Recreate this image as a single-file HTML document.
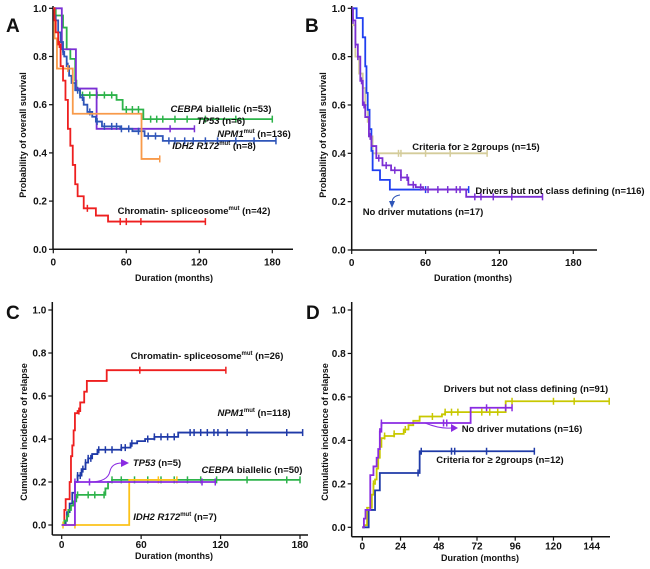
<!DOCTYPE html>
<html><head><meta charset="utf-8">
<style>
html,body{margin:0;padding:0;background:#fff;}
svg{display:block;font-family:"Liberation Sans",sans-serif;}
.tk{font-size:10px;font-weight:bold;fill:#111;}
.tt{font-size:9px;font-weight:bold;fill:#111;}
.lb{font-size:9.5px;font-weight:bold;fill:#111;}
.pl{font-size:19px;font-weight:bold;fill:#111;}
</style></head>
<body>
<svg id="fig" width="650" height="569" viewBox="0 0 650 569"></svg>
<script>
// ---- Panel A data (overall survival) ----
const aCebpaT=[0,2,8,11,14,18,19,22,52,57,74,180];
const aCebpaV=[1,0.97,0.92,0.83,0.79,0.70,0.66,0.64,0.62,0.58,0.54,0.54];
const aCebpaC=[24,30,36,42,48,60,65,70,80,85,90,100,110,125,150,180];
const aTp53T=[0,7,18.6,35.6,116];
const aTp53V=[1,0.83,0.667,0.5,0.5];
const aTp53C=[96,116];
const aNpmT=[0,1,2,4,6,8,9,11,13,15,18,22,25,28,32,35,40,55,65,75,90,183];
const aNpmV=[1,0.97,0.95,0.9,0.86,0.82,0.8,0.76,0.72,0.69,0.66,0.63,0.6,0.57,0.55,0.53,0.51,0.50,0.49,0.47,0.45,0.45];
const aNpmC=[8,12,16,20,24,30,36,42,48,52,56,62,70,78,84,95,100,108,115,125,135,150,165,183];
const aIdhT=[0,1,3,16,72.5,87.5];
const aIdhV=[1,0.875,0.75,0.5625,0.375,0.375];
const aIdhC=[12,87.5];
const aChromT=[0,1,2,4,6,8,10,12,14,16,18,20,25,35,45,125];
const aChromV=[1,0.95,0.9,0.85,0.76,0.7,0.62,0.5,0.43,0.35,0.27,0.22,0.17,0.14,0.115,0.115];
const aChromC=[5,28,55,60,72,125];
// ---- Panel B data (overall survival) ----
const bNoDrvT=[0,4,9,11,12,13,14.5,16,17,23,31,95];
const bNoDrvV=[1,0.96,0.88,0.76,0.65,0.58,0.5,0.41,0.33,0.29,0.25,0.25];
const bNoDrvC=[60,95];
const bDrvT=[0,1,3,5,7,9,11,14,16,20,25,32,40,46,52,58,93,155];
const bDrvV=[1,0.95,0.85,0.8,0.7,0.6,0.55,0.47,0.43,0.38,0.35,0.33,0.3,0.27,0.26,0.25,0.22,0.22];
const bDrvC=[1,3,5,8,10,15,22,28,35,40,45,50,56,62,70,78,85,88,100,105,115,130,155];
const bCritT=[0,1,3,6,9,11,13,14,17,110];
const bCritV=[1,0.93,0.8,0.73,0.67,0.6,0.53,0.47,0.4,0.4];
const bCritC=[38,40,60,80,110];
// ---- Panel C data (cumulative incidence of relapse) ----
const cChromT=[0,2,3,6,7,8,9,10,12,14,17,19,34,124];
const cChromV=[0,0.07,0.12,0.2,0.32,0.37,0.44,0.52,0.53,0.57,0.62,0.67,0.72,0.72];
const cChromC=[13,59,124];
const cNpmT=[0,3,4,6,8,10,12,15,18,20,23,27,45,52,57,63,70,88,182];
const cNpmV=[0,0.02,0.06,0.1,0.15,0.2,0.23,0.26,0.29,0.31,0.33,0.35,0.36,0.38,0.39,0.40,0.41,0.43,0.43];
const cNpmC=[12,14,16,18,20,22,28,33,38,45,48,53,65,70,75,80,85,97,100,105,110,115,118,125,140,170,182];
const cTp53T=[0,10,116];
const cTp53V=[0,0.2,0.2];
const cTp53C=[10,21,106,116];
const cCebpaT=[0,2,4,5,7,9,11,33,35,38,180];
const cCebpaV=[0,0.02,0.04,0.07,0.09,0.11,0.14,0.17,0.2,0.21,0.21];
const cCebpaC=[12,20,25,32,38,45,55,65,75,85,95,105,117,140,170,180];
const cIdhT=[0,51,87];
const cIdhV=[0,0.21,0.21];
const cIdhC=[1,10,73,87];
// ---- Panel D data (cumulative incidence of relapse) ----
const dDrvT=[0,1,3,6,7,8,9,10,11,12,14,20,26,29,32,36,50,52,90,155];
const dDrvV=[0,0.01,0.09,0.15,0.2,0.22,0.27,0.32,0.37,0.41,0.42,0.43,0.45,0.47,0.49,0.51,0.52,0.53,0.58,0.58];
const dDrvC=[7,10,14,20,27,44,52,56,60,75,80,85,94,120,133,155];
const dNoDrvT=[0,1,2,5,7,9,10,11,12,68,94];
const dNoDrvV=[0,0.04,0.08,0.24,0.28,0.32,0.36,0.44,0.48,0.55,0.55];
const dNoDrvC=[11,12,51,53,78,90,94];
const dCritT=[0,4,8,11,36,108];
const dCritV=[0,0.08,0.17,0.25,0.35,0.35];
const dCritC=[35,37,56,58,78,108];

const NS='http://www.w3.org/2000/svg';
const svg=document.getElementById('fig');
function mk(tag,attrs,parent){const e=document.createElementNS(NS,tag);for(const k in attrs)e.setAttribute(k,attrs[k]);(parent||svg).appendChild(e);return e;}

function panel(cfg){
  const g=mk('g',{});
  
  
  const sx=t=>cfg.x0+(t/cfg.xmaxTick)*(cfg.x1-cfg.x0);
  const sy=v=>cfg.y0-v*(cfg.y0-cfg.y1);
  const ya=mk('line',{x1:cfg.ax,y1:cfg.yTop,x2:cfg.ax,y2:cfg.ay,stroke:'#111','stroke-width':1.5},g);
  
  const xa=mk('line',{x1:cfg.ax,y1:cfg.ay,x2:cfg.axEnd,y2:cfg.ay,stroke:'#111','stroke-width':1.5},g);
  
  cfg.yTicks.forEach(v=>{
    mk('line',{x1:cfg.ax-4,y1:sy(v),x2:cfg.ax,y2:sy(v),stroke:'#111','stroke-width':1.2},g);
    const t=mk('text',{x:cfg.ax-6,y:sy(v)+3.5,'text-anchor':'end',class:'tk'},g);t.textContent=v.toFixed(1);
    
  });
  cfg.xTicks.forEach(v=>{
    mk('line',{x1:sx(v),y1:cfg.ay,x2:sx(v),y2:cfg.ay+4,stroke:'#111','stroke-width':1.2},g);
    const t=mk('text',{x:sx(v),y:cfg.ay+cfg.tickDy,'text-anchor':'middle',class:'tk'},g);t.textContent=v;
    
  });
  const xt=mk('text',{x:cfg.xtX,y:cfg.xtY,'text-anchor':'middle',class:'tt'},g);xt.textContent='Duration (months)';
  
  const yt=mk('text',{x:0,y:0,'text-anchor':'middle',class:'tt',transform:`translate(${cfg.ytX},${cfg.ytY}) rotate(-90)`},g);yt.textContent=cfg.ytitle;
  
  const pl=mk('text',{x:cfg.plX,y:cfg.plY,class:'pl'},g);pl.textContent=cfg.letter;
  
  cfg.series.forEach(s=>{
    let d=`M${sx(s.T[0])},${sy(s.V[0])}`;
    for(let i=1;i<s.T.length;i++){d+=` H${sx(s.T[i])} V${sy(s.V[i])}`;}
    const p=mk('path',{d:d,fill:'none',stroke:s.color,'stroke-width':1.8},g);
    
    
    s.C.forEach(c=>{
      let v=s.V[0];for(let i=0;i<s.T.length;i++){if(s.T[i]<=c)v=s.V[i];}
      const m=mk('line',{x1:sx(c),y1:sy(v)-3.5,x2:sx(c),y2:sy(v)+3.5,stroke:s.color,'stroke-width':1.5},g);
      
      
    });
  });
  cfg.labels.forEach(l=>{
    const t=mk('text',{x:l.x,y:l.y,'text-anchor':'middle',class:'lb'},g);
    t.innerHTML=l.html;
    
    
  });
  (cfg.arrows||[]).forEach(a=>{
    const p=mk('path',{d:a.d,fill:'none',stroke:a.color,'stroke-width':1},g);
    
    
    const h=mk('polygon',{points:a.head,fill:a.color},g);
    
    
  });
}
const sup=s=>`<tspan font-size="6" dy="-4">${s}</tspan><tspan dy="4"> </tspan>`;

panel({name:'panel-a',letter:'A',plX:6,plY:32,x0:53.3,x1:272.3,xmaxTick:180,y0:249.3,y1:8.3,
  ax:53,ay:249.3,axEnd:293,yTop:6,yTicks:[0,0.2,0.4,0.6,0.8,1.0],xTicks:[0,60,120,180],tickDy:16,
  xtX:174,xtY:281,ytX:26,ytY:135,ytitle:'Probability of overall survival',
  series:[
    {name:'cebpa-biallelic',T:aCebpaT,V:aCebpaV,C:aCebpaC,color:'#2db34a'},
    {name:'tp53',T:aTp53T,V:aTp53V,C:aTp53C,color:'#7b2fd4'},
    {name:'npm1',T:aNpmT,V:aNpmV,C:aNpmC,color:'#2e55b8'},
    {name:'idh2-r172',T:aIdhT,V:aIdhV,C:aIdhC,color:'#f89a4a'},
    {name:'chromatin-spliceosome',T:aChromT,V:aChromV,C:aChromC,color:'#ee1f1f'}],
  labels:[
    {name:'cebpa-label',x:221,y:112,html:'<tspan font-style="italic">CEBPA</tspan> biallelic (n=53)'},
    {name:'tp53-label',x:221,y:124,html:'<tspan font-style="italic">TP53</tspan> (n=6)'},
    {name:'npm1-label',x:254,y:137,html:'<tspan font-style="italic">NPM1</tspan>'+sup('mut')+'(n=136)'},
    {name:'idh2-label',x:214,y:149,html:'<tspan font-style="italic">IDH2 R172</tspan>'+sup('mut')+'(n=8)'},
    {name:'chromatin-label',x:194,y:214,html:'Chromatin- spliceosome'+sup('mut')+'(n=42)'}]
});
panel({name:'panel-b',letter:'B',plX:305,plY:32,x0:351.7,x1:573.3,xmaxTick:180,y0:250,y1:8.3,
  ax:351.7,ay:250,axEnd:597,yTop:6,yTicks:[0,0.2,0.4,0.6,0.8,1.0],xTicks:[0,60,120,180],tickDy:16,
  xtX:473,xtY:281,ytX:326,ytY:135,ytitle:'Probability of overall survival',
  series:[
    {name:'criteria-2-groups',T:bCritT,V:bCritV,C:bCritC,color:'#d4cc9a'},
    {name:'no-driver',T:bNoDrvT,V:bNoDrvV,C:bNoDrvC,color:'#1f3ff0'},
    {name:'drivers-not-class-defining',T:bDrvT,V:bDrvV,C:bDrvC,color:'#7b2fd4'}],
  labels:[
    {name:'criteria-label',x:476,y:150,html:'Criteria for ≥ 2groups (n=15)'},
    {name:'drivers-label',x:560,y:194,html:'Drivers but not class defining (n=116)'},
    {name:'no-driver-label',x:423,y:215,html:'No driver mutations (n=17)'}],
  arrows:[{color:'#2e55b8',d:'M400,195 Q392,196 392,203',head:'389,201 395,201 392,208'}]
});
panel({name:'panel-c',letter:'C',plX:6,plY:319,x0:61.7,x1:300,xmaxTick:180,y0:525,y1:310,
  ax:52.3,ay:535,axEnd:308,yTop:302,yTicks:[0,0.2,0.4,0.6,0.8,1.0],xTicks:[0,60,120,180],tickDy:13,
  xtX:174,xtY:559,ytX:27,ytY:432,ytitle:'Cumulative incidence of relapse',
  series:[
    {name:'chromatin-spliceosome',T:cChromT,V:cChromV,C:cChromC,color:'#ee1f1f'},
    {name:'npm1',T:cNpmT,V:cNpmV,C:cNpmC,color:'#1f3aa8'},
    {name:'cebpa-biallelic',T:cCebpaT,V:cCebpaV,C:cCebpaC,color:'#2db34a'},
    {name:'idh2-r172',T:cIdhT,V:cIdhV,C:cIdhC,color:'#fcc21a'},
    {name:'tp53',T:cTp53T,V:cTp53V,C:cTp53C,color:'#8a2be2'}],
  labels:[
    {name:'chromatin-label',x:207,y:359,html:'Chromatin- spliceosome'+sup('mut')+'(n=26)'},
    {name:'npm1-label',x:254,y:416,html:'<tspan font-style="italic">NPM1</tspan>'+sup('mut')+'(n=118)'},
    {name:'tp53-label',x:157,y:466,html:'<tspan font-style="italic">TP53</tspan> (n=5)'},
    {name:'cebpa-label',x:252,y:473,html:'<tspan font-style="italic">CEBPA</tspan> biallelic (n=50)'},
    {name:'idh2-label',x:175,y:520,html:'<tspan font-style="italic">IDH2 R172</tspan>'+sup('mut')+'(n=7)'}],
  arrows:[{color:'#8a2be2',d:'M90,482 Q108,482 110,471 Q112,463 122,463',head:'121,459 129,463 121,467'}]
});
panel({name:'panel-d',letter:'D',plX:306,plY:319,x0:362.3,x1:591.7,xmaxTick:144,y0:527.3,y1:310,
  ax:351.7,ay:536.7,axEnd:610,yTop:302,yTicks:[0,0.2,0.4,0.6,0.8,1.0],xTicks:[0,24,48,72,96,120,144],tickDy:13,
  xtX:480,xtY:561,ytX:328,ytY:432,ytitle:'Cumulative incidence of relapse',
  series:[
    {name:'drivers-not-class-defining',T:dDrvT,V:dDrvV,C:dDrvC,color:'#c8c800'},
    {name:'criteria-2-groups',T:dCritT,V:dCritV,C:dCritC,color:'#1f3aa8'},
    {name:'no-driver',T:dNoDrvT,V:dNoDrvV,C:dNoDrvC,color:'#8a2be2'}],
  labels:[
    {name:'drivers-label',x:526,y:392,html:'Drivers but not class defining (n=91)'},
    {name:'no-driver-label',x:522,y:432,html:'No driver mutations (n=16)'},
    {name:'criteria-label',x:500,y:463,html:'Criteria for ≥ 2groups (n=12)'}],
  arrows:[{color:'#8a2be2',d:'M425,423 Q440,429 451,428',head:'451,424 458,428 451,432'}]
});
</script>
</body></html>
